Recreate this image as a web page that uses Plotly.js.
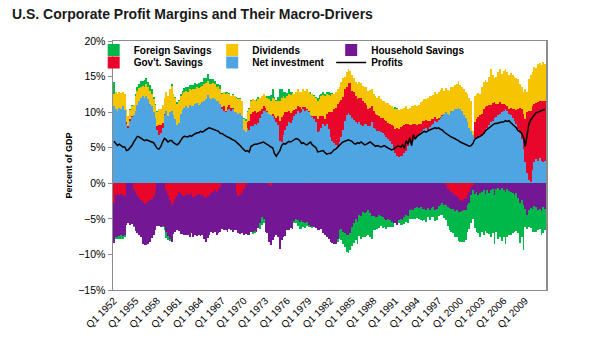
<!DOCTYPE html>
<html>
<head>
<meta charset="utf-8">
<script src="https://cdn.plot.ly/plotly-3.0.1.min.js"></script>
<style>
  html, body { margin: 0; padding: 0; background: #fff; }
  #chart { width: 596px; height: 337px; }
  #chart .barlayer .point path { shape-rendering: crispEdges !important; }
</style>
</head>
<body>
<div id="chart"></div>
<script>
// Quarterly categories Q1 1952 .. Q4 2011
const firstYear = 1952, lastYear = 2011;
const quarters = [];
for (let y = firstYear; y <= lastYear; y++) for (let q = 1; q <= 4; q++) quarters.push('Q' + q + ' ' + y);

const tickLabels = ['Q1 1952','Q1 1955','Q1 1958','Q1 1961','Q1 1964','Q1 1967','Q1 1970',
  'Q1 1973','Q1 1976','Q1 1979','Q1 1982','Q1 1985','Q1 1988','Q1 1991','Q1 1994',
  'Q1 1997','Q1 2000','Q1 2003','Q1 2006','Q1 2009'];

// Net investment (% of GDP), 4 values per year
const netInvestment = [
10.8,10.5,10.2,10.6, 10.5,10.8,10.3,8.4, 7.8,8.8,9.3,9.6, 10.2,11.0,11.6,12.0,
12.2,12.0,12.3,11.8, 11.2,10.8,10.0,9.2, 7.5,6.8,7.0,7.8, 9.6,10.2,9.5,10.0,
10.2,9.6,9.0,8.2, 8.5,9.8,10.3,10.6, 10.8,10.6,11.0,10.8, 10.9,11.1,11.3,11.0,
11.2,11.4,11.6,11.8, 12.4,12.0,11.8,12.0, 11.8,11.5,11.6,11.2, 10.4,10.2,10.0,10.3,
10.5,10.2,10.4,10.0, 10.0,9.8,9.9,9.5, 7.5,7.2,7.8,7.5, 8.0,8.1,8.4,8.2,
8.5,9.2,9.8,10.2, 10.2,10.0,9.8,9.6, 9.5,9.0,8.6,8.2, 6.0,5.8,6.8,7.5,
8.0,8.6,8.5,8.9, 9.4,9.8,10.2,9.9, 10.0,10.4,10.2,10.3, 10.0,9.6,9.3,9.0,
8.6,7.2,7.4,7.8, 8.3,8.0,8.4,7.6, 6.5,6.0,5.6,5.4, 5.2,5.8,6.5,7.5,
8.8,9.6,9.9,9.6, 9.2,8.9,8.6,8.4, 8.6,8.2,8.0,8.3, 8.4,8.1,8.0,8.6,
7.8,7.6,7.4,7.4, 7.2,7.0,6.8,6.5, 6.2,5.9,5.5,5.0, 4.2,3.8,3.7,3.9,
3.8,4.2,4.6,5.2, 5.6,5.9,6.0,6.3, 6.6,6.9,7.2,7.4, 7.6,7.8,7.5,7.9,
8.2,8.4,8.8,8.6, 8.9,9.2,9.5,9.8, 10.0,9.8,9.6,10.1, 10.2,10.4,10.5,10.6,
10.4,10.1,9.6,9.2, 8.6,7.8,7.3,6.8, 6.4,6.2,6.3,6.5, 6.6,6.9,7.4,7.8,
8.2,8.6,8.8,9.2, 9.3,9.6,9.8,10.0, 10.2,10.4,10.1,9.8, 9.6,9.2,8.8,8.4,
7.6,7.0,6.2,4.8, 3.0,1.5,0.4,0.2, 1.8,3.0,3.4,3.2, 3.6,3.2,3.0,3.1
];

// Gov't savings contribution (positive = deficit, negative = surplus)
const govSavings = [
-2.8,-1.6,-1.5,-1.7, -1.5,-1.7,-1.8,0.2, 0.2,0.3,0.1,-0.8, -1.2,-1.6,-2.0,-2.4,
-2.7,-2.9,-2.8,-2.6, -2.4,-2.2,-1.8,-1.0, 0.5,1.4,1.2,0.7, 0.2,-0.9,-1.6,-2.3,
-3.0,-2.6,-2.2,-1.8, -1.2,-1.5,-1.6,-1.8, -1.6,-1.5,-1.7,-1.4, -1.9,-1.8,-1.7,-1.5,
-1.6,-1.7,-1.9,-2.0, -1.8,-1.6,-1.3,-1.2, -1.0,-1.2,-0.8,-0.5, 0.3,0.6,0.2,0.4,
0.5,0.4,0.2,0.0, -1.2,-1.8,-1.6,-1.4, -0.8,-0.3,0.8,1.2, 1.8,1.9,1.7,1.7,
1.5,1.0,0.7,0.6, 0.4,0.1,-0.3,-0.4, 0.2,0.4,0.6,1.2, 2.8,3.5,2.8,2.5,
2.0,1.5,1.4,1.3, 0.9,0.6,0.7,0.8, 0.4,0.3,0.5,0.2, 0.1,-0.2,0.2,0.4,
0.9,1.9,2.0,1.7, 1.2,1.0,1.3,2.4, 3.5,4.0,4.8,5.2, 6.0,5.6,5.2,4.6,
4.4,4.0,4.2,4.5, 3.8,3.9,3.6,3.4, 3.4,3.8,3.5,3.0, 2.6,2.4,2.6,2.2,
2.4,2.2,2.2,2.0, 2.0,2.2,2.1,2.3, 2.3,2.5,2.7,3.0, 3.4,4.0,4.0,4.0,
4.2,4.0,3.8,3.2, 2.6,2.3,2.4,2.1, 1.6,1.4,1.2,1.3, 1.2,1.1,1.2,0.9,
0.9,0.7,0.5,0.4, 0.3,0.1,0.1,0.0, -0.3,-0.8,-1.0,-1.2, -1.4,-1.6,-1.8,-2.0,
-2.4,-2.5,-2.2,-2.0, -1.6,-1.2,-0.5,-0.2, 2.2,2.8,3.0,3.1, 3.2,3.5,3.3,3.0,
2.8,2.4,2.5,2.2, 1.8,1.5,1.6,1.2, 0.9,0.6,0.8,0.7, 1.0,1.2,1.6,1.9,
2.8,3.6,4.2,5.0, 6.0,8.5,9.8,10.0, 9.0,8.2,7.9,8.2, 8.0,8.4,8.6,8.5
];

// Dividends
const dividends = [
1.8,2.4,2.3,2.2, 2.2,2.1,2.2,1.8, 1.4,1.2,1.4,1.4, 2.0,2.0,1.8,1.6,
1.5,1.6,1.6,1.7, 1.8,1.8,1.8,1.8, 2.0,2.2,2.3,2.5, 2.2,2.6,2.8,3.2,
3.5,2.9,3.0,3.0, 3.0,2.5,2.3,2.3, 2.2,2.3,2.2,2.3, 2.3,2.2,2.2,2.4,
2.4,2.3,2.4,2.3, 2.0,2.0,2.1,2.1, 2.1,2.1,2.1,2.1, 1.8,2.0,2.4,2.0,
1.6,1.7,1.8,2.2, 2.0,2.0,2.0,2.0, 1.5,1.6,1.4,1.8, 1.8,1.8,1.6,1.6,
1.8,1.8,1.8,1.7, 1.6,1.9,2.0,2.0, 2.3,2.4,2.3,2.2, 2.7,2.7,2.6,2.0,
2.3,2.5,2.5,2.5, 2.2,2.4,2.3,2.2, 2.4,2.5,2.3,2.8, 2.8,3.0,3.0,2.9,
2.5,2.5,2.4,2.7, 2.9,3.2,2.9,2.4, 2.3,2.5,2.2,2.2, 2.0,2.2,2.5,2.7,
1.8,2.0,2.0,1.7, 2.2,2.0,2.0,2.2, 2.2,2.1,2.2,2.2, 2.5,2.5,2.5,2.5,
2.3,2.4,2.4,2.8, 2.6,2.4,2.6,2.5, 2.8,2.6,2.6,2.6, 2.8,2.7,2.6,2.5,
2.4,2.4,2.4,2.1, 2.4,2.6,2.5,2.6, 2.6,2.7,3.0,2.9, 3.0,3.0,3.3,3.4,
3.2,3.3,3.5,3.6, 3.6,3.8,3.8,3.2, 3.4,3.3,3.4,3.4, 3.3,3.4,3.5,3.8,
3.4,3.4,3.6,3.6, 3.9,4.2,4.3,0.6, 3.7,3.5,3.4,3.0, 3.8,3.8,3.8,3.4,
4.0,5.0,3.9,3.4, 3.9,4.5,4.7,4.2, 4.7,5.0,4.7,4.7, 4.9,4.8,4.6,4.5,
4.2,3.4,3.2,3.0, 4.2,2.8,4.4,5.0, 4.8,5.2,4.9,5.4, 5.3,5.0,5.4,5.2
];

// Household savings contribution (negative)
const householdSavings = [
-5.6,-5.9,-6.0,-5.7, -5.8,-5.7,-5.5,-5.8, -5.6,-5.8,-5.7,-5.2, -5.5,-5.4,-5.3,-5.2,
-5.8,-5.8,-5.9,-6.0, -5.8,-5.5,-5.5,-5.5, -6.0,-6.0,-6.1,-6.0, -6.2,-6.0,-5.8,-5.6,
-5.2,-4.5,-4.6,-4.8, -5.5,-5.6,-5.5,-5.4, -5.7,-5.8,-5.9,-5.6, -5.6,-5.5,-5.7,-5.8,
-5.8,-5.6,-6.0,-6.2, -5.9,-5.7,-5.6,-5.8, -5.9,-6.0,-6.2,-6.3, -6.4,-6.6,-6.5,-6.8,
-6.4,-6.6,-6.8,-6.5, -5.4,-5.2,-5.5,-5.6, -6.4,-6.8,-7.2,-7.3, -6.8,-6.9,-6.7,-6.8,
-6.3,-5.6,-4.8,-5.0, -6.8,-7.0,-8.0,-8.3, -8.0,-7.5,-7.3,-7.6, -9.2,-8.0,-7.6,-7.4,
-6.6,-6.5,-6.3,-6.4, -5.3,-5.0,-5.2,-5.4, -5.2,-5.4,-5.6,-5.5, -5.8,-5.9,-6.0,-6.1,
-6.3,-6.6,-6.5,-6.4, -7.0,-7.2,-7.5,-7.8, -8.2,-8.4,-8.6,-8.5, -7.8,-6.6,-6.4,-6.8,
-7.0,-7.3,-7.2,-7.0, -6.2,-5.6,-5.0,-5.4, -4.4,-4.6,-4.0,-4.2, -4.0,-3.7,-4.2,-4.6,
-4.6,-4.8,-4.7,-4.5, -4.6,-4.8,-5.0,-5.1, -5.0,-5.2,-5.4,-5.6, -5.6,-5.8,-5.2,-5.0,
-5.2,-4.8,-4.5,-4.6, -3.8,-3.6,-3.7,-3.5, -3.3,-3.5,-3.4,-3.6, -3.6,-3.8,-3.5,-3.7,
-3.5,-3.4,-3.7,-3.6, -3.2,-3.0,-2.8,-3.1, -2.8,-2.6,-2.5,-2.4, -2.2,-2.3,-2.0,-2.1,
-1.6,-1.4,-1.5,-1.7, -1.4,-1.6,-1.2,-0.8, -1.5,-1.2,-1.6,-1.4, -1.2,-0.9,-1.5,-1.0,
-1.3,-1.0,-0.8,-1.6, -0.8,-0.6,-1.0,-0.7, -1.0,-1.2,-0.8,-1.1, -1.2,-1.4,-1.6,-1.3,
-2.0,-2.8,-2.4,-3.0, -3.6,-4.4,-3.8,-3.5, -3.6,-3.2,-3.4,-3.8, -3.6,-3.9,-3.4,-3.6
];

// Foreign savings contribution (positive = surplus, negative = deficit)
const foreignSavings = [
1.6,-0.3,-0.4,-0.5, -0.5,-0.4,-0.3,0.1, 0.1,0.1,0.2,-0.1, 0.3,0.5,0.6,0.8,
0.7,0.9,0.9,0.8, 0.8,0.6,0.3,0.1, 0.1,0.1,0.0,-0.1, -0.4,-0.8,-0.6,-0.2,
0.3,0.0,0.1,0.2, 0.2,0.3,0.4,0.5, 0.5,0.6,0.6,0.7, 0.6,0.8,0.5,0.7,
0.6,0.5,0.8,0.7, 0.9,0.6,0.7,0.5, 0.5,0.4,0.3,0.5, 0.2,0.1,0.3,0.2,
0.1,0.0,0.1,0.0, 0.1,0.2,0.1,0.0, 0.2,0.3,0.2,0.1, 0.1,-0.2,-0.3,0.3,
0.3,-0.8,-1.0,-0.6, 0.1,0.3,0.5,0.8, 1.3,0.3,0.2,0.5, 1.8,1.2,0.6,0.8,
0.4,0.7,0.5,0.2, -0.3,-0.6,-0.8,-1.0, -1.2,-0.8,-0.7,-0.5, -0.4,0.2,-0.3,0.1,
0.1,0.4,0.6,0.3, 0.5,0.4,0.3,0.4, 0.4,0.2,0.0,-0.1, -0.4,-1.2,-1.6,-1.8,
-2.0,-2.4,-2.6,-2.4, -2.6,-2.8,-3.0,-3.2, -3.0,-3.3,-3.5,-3.4, -3.4,-3.6,-3.4,-3.3,
-2.0,-1.8,-1.7,-1.8, -1.4,-1.5,-1.2,-1.3, -1.2,-1.0,-0.8,-0.6, 0.3,0.1,-0.4,-0.8,
-0.6,-0.9,-1.0,-1.0, -1.2,-1.4,-1.3,-1.5, -1.6,-1.5,-1.8,-1.7, -1.5,-1.6,-1.3,-1.4,
-1.3,-1.4,-1.6,-1.5, -1.4,-1.5,-1.6,-1.8, -2.0,-2.6,-3.0,-3.2, -3.4,-3.6,-3.8,-4.0,
-4.2,-4.4,-4.6,-4.3, -3.8,-3.6,-3.9,-4.0, -4.8,-5.6,-5.4,-6.2, -5.6,-6.4,-5.2,-6.0,
-5.8,-6.6,-6.2,-7.0, -6.0,-7.2,-6.6,-7.4, -6.6,-7.4,-6.8,-6.2, -6.0,-5.6,-5.2,-5.4,
-5.0,-5.6,-5.2,-6.4, -2.6,-2.0,-2.4,-2.8, -3.2,-3.6,-3.4,-2.8, -2.8,-3.4,-3.6,-2.9
];

// Corporate profits (% of GDP)
const profits = [
5.9,5.6,5.3,5.5, 5.3,5.1,5.1,4.6, 4.7,5.0,5.3,5.8, 6.2,6.6,6.5,6.3,
6.2,6.0,6.1,6.0, 6.0,5.9,5.7,5.3, 4.9,4.8,5.2,5.8, 6.3,6.1,5.8,6.0,
6.0,5.7,5.5,5.4, 5.6,6.1,6.4,6.6, 6.6,6.5,6.7,6.6, 6.8,7.0,7.1,7.1,
7.3,7.2,7.4,7.6, 7.7,7.8,7.7,7.6, 7.6,7.5,7.3,7.0, 7.0,6.8,6.6,6.5,
6.4,6.2,6.1,6.0, 5.8,5.6,5.3,5.0, 4.7,4.5,4.6,4.4, 5.2,5.4,5.5,5.5,
5.6,5.6,5.7,5.8, 5.6,5.5,5.3,5.1, 5.0,4.2,3.8,4.2, 4.6,5.3,5.6,5.5,
5.7,5.9,5.8,6.0, 6.1,6.3,6.2,6.0, 5.6,5.7,5.5,5.4, 5.6,5.8,5.4,5.2,
5.0,4.4,4.5,4.6, 4.6,4.3,4.1,4.2, 4.2,4.4,4.7,4.8, 5.1,5.4,5.6,5.8,
5.9,6.0,6.1,6.0, 5.9,5.6,5.5,5.7, 5.6,5.8,5.6,5.4, 5.5,5.7,5.8,5.6,
5.4,5.2,5.3,5.2, 5.1,5.2,5.3,5.1, 5.0,4.9,4.7,4.8, 5.0,5.2,5.2,5.1,
5.4,4.9,6.0,5.5, 6.4,5.3,6.8,6.2, 6.6,6.8,7.0,7.1, 7.3,7.2,7.4,7.5,
7.6,7.7,7.8,7.7, 7.8,7.6,7.5,7.2, 7.0,6.8,6.6,6.5, 6.4,6.3,6.1,6.0,
5.8,5.7,5.5,5.4, 5.4,5.2,5.3,5.6, 6.2,6.4,6.5,6.6, 6.8,7.0,7.4,7.6,
7.8,8.0,8.2,8.4, 8.4,8.5,8.6,8.6, 8.6,8.8,8.7,8.8, 8.5,8.3,8.1,7.8,
7.4,7.3,7.0,6.5, 5.2,7.0,8.3,8.9, 9.3,9.6,9.9,10.0, 10.1,10.2,10.3,10.4
];

const FONT = 'Liberation Sans, Arial, Helvetica, sans-serif';
const colors = {
  foreign: '#00B84A', dividends: '#F6C400', household: '#741794',
  gov: '#E8062B', invest: '#4FA5E1', profits: '#000000'
};

function barTrace(name, y, color, legendId) {
  return {
    type: 'bar', name: name, x: quarters, y: y,
    marker: { color: color, line: { width: 0 } },
    legend: legendId
  };
}

// stacking order: blue, red, yellow (up) / red, purple (down), green outermost
const data = [
  barTrace('Net investment', netInvestment, colors.invest, 'legend5'),
  barTrace("Gov't. Savings", govSavings, colors.gov, 'legend4'),
  barTrace('Dividends', dividends, colors.dividends, 'legend2'),
  barTrace('Household Savings', householdSavings, colors.household, 'legend3'),
  barTrace('Foreign Savings', foreignSavings, colors.foreign, 'legend'),
  {
    type: 'scatter', mode: 'lines', name: 'Profits', x: quarters, y: profits,
    line: { color: colors.profits, width: 1.5 }, legend: 'legend6'
  }
];

// one legend per entry, in a 3 x 2 grid (positions in plot-fraction units)
const plotLeft = 113.3, plotW = 433, plotBottom = 290, plotH = 249;
function legendBox(textLeftPx, rowCenterPx) {
  return {
    orientation: 'h', xref: 'paper', yref: 'paper',
    x: (textLeftPx - 40 - plotLeft) / plotW, xanchor: 'left',
    y: (plotBottom - rowCenterPx) / plotH, yanchor: 'middle',
    font: { family: FONT, size: 10, color: '#000', weight: 'bold' },
    bgcolor: 'rgba(0,0,0,0)', itemwidth: 30
  };
}

const layout = {
  width: 596, height: 337,
  paper_bgcolor: '#ffffff', plot_bgcolor: '#ffffff',
  margin: { l: 113, r: 50, t: 41, b: 47, pad: 0 },
  font: { family: FONT, color: '#000', size: 10 },
  title: {
    text: '<b>U.S. Corporate Profit Margins and Their Macro-Drivers</b>',
    font: { family: FONT, size: 14, color: '#1a1a1a' },
    xref: 'container', yref: 'container', x: 0.02, xanchor: 'left',
    y: 1 - 14 / 337, yanchor: 'middle'
  },
  barmode: 'relative', bargap: 0,
  showlegend: true,
  legend:  legendBox(134, 50),
  legend2: legendBox(252.5, 50),
  legend3: legendBox(371.5, 50),
  legend4: legendBox(134, 62.5),
  legend5: legendBox(252.5, 62.5),
  legend6: legendBox(371.5, 62.5),
  xaxis: {
    type: 'category', range: [-0.5, quarters.length - 0.5],
    tickmode: 'array', tickvals: tickLabels, ticktext: tickLabels,
    tickangle: -45, tickfont: { family: FONT, size: 10, color: '#000' },
    ticks: '', showgrid: false, zeroline: false,
    showline: true, linecolor: '#8c8c8c', linewidth: 1, mirror: true,
    automargin: false, fixedrange: true
  },
  yaxis: {
    range: [-15, 20], tickmode: 'linear', tick0: -15, dtick: 5, ticksuffix: '%',
    tickfont: { family: FONT, size: 10.5, color: '#000' },
    ticks: 'outside', ticklen: 4, tickcolor: '#8c8c8c',
    showgrid: false, zeroline: false,
    showline: true, linecolor: '#8c8c8c', linewidth: 1.5, mirror: true,
    title: { text: '<b>Percent of GDP</b>', font: { family: FONT, size: 9, color: '#000' }, standoff: 4 },
    automargin: false, fixedrange: true
  }
};

Plotly.newPlot('chart', data, layout, { displayModeBar: false, staticPlot: true });
</script>
</body>
</html>
